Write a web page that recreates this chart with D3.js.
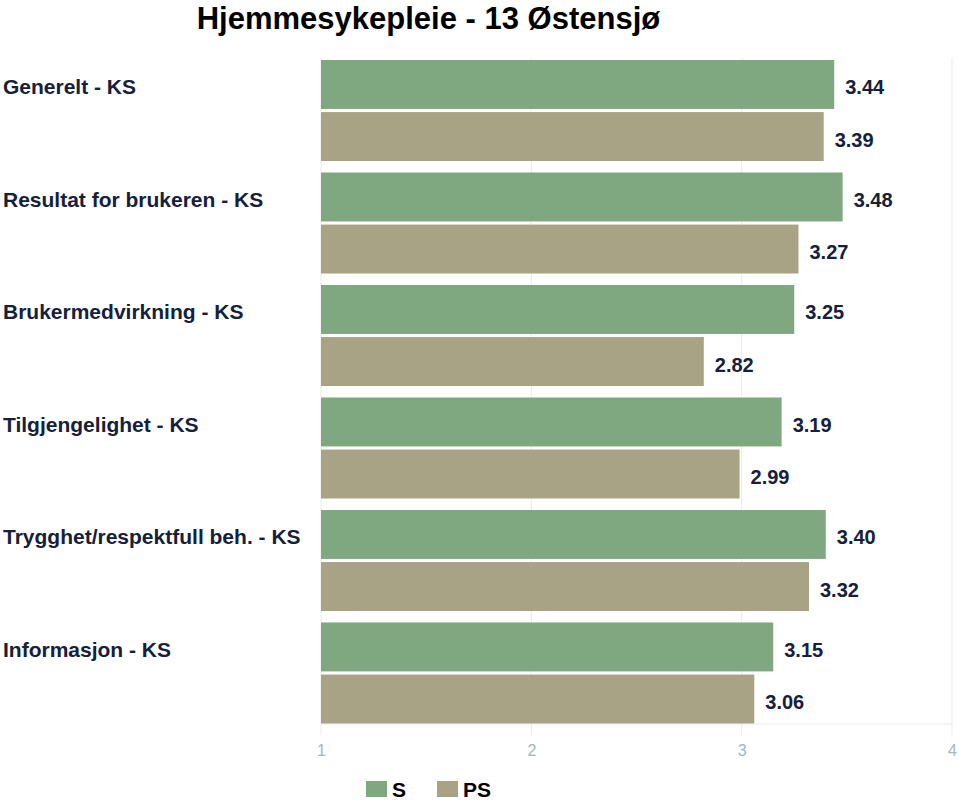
<!DOCTYPE html>
<html>
<head>
<meta charset="utf-8">
<script src="https://cdn.jsdelivr.net/npm/d3@7"></script>
<style>
  body { margin: 0; background: #fff; }
  text { font-family: "Liberation Sans", Arial, sans-serif; }
</style>
</head>
<body>
<script>
var categories = ["Generelt - KS", "Resultat for brukeren - KS", "Brukermedvirkning - KS",
                  "Tilgjengelighet - KS", "Trygghet/respektfull beh. - KS", "Informasjon - KS"];
var seriesNames = ["S", "PS"];
var valuesS = [3.44, 3.48, 3.25, 3.19, 3.40, 3.15];
var valuesPS = [3.39, 3.27, 2.82, 2.99, 3.32, 3.06];
var xTicks = [1, 2, 3, 4];
var colors = {S: "#7fa881", PS: "#a9a386"};

var width = 959, height = 802;

var svg = d3.select("body").append("svg")
    .attr("width", width)
    .attr("height", height);

var x = d3.scaleLinear().domain([1, 4]).range([321, 952]);
var y = d3.scaleBand().domain(categories).range([60, 723.5]).paddingInner(0.102).paddingOuter(0);
var ySub = d3.scaleBand().domain(seriesNames).range([0, y.bandwidth()]).paddingInner(0.06);

// gridlines
svg.append("g").selectAll("line")
    .data(xTicks)
    .enter().append("line")
    .attr("x1", function(d) { return x(d); })
    .attr("x2", function(d) { return x(d); })
    .attr("y1", 58)
    .attr("y2", 735)
    .attr("stroke", "#ebebeb")
    .attr("stroke-width", 1);

svg.append("line")
    .attr("x1", x(1)).attr("x2", x(4))
    .attr("y1", 724).attr("y2", 724)
    .attr("stroke", "#ebebeb");

// axis labels
var xAxis = d3.axisBottom(x).tickValues(xTicks).tickSize(0).tickPadding(0).tickFormat(d3.format("d"));
var axisG = svg.append("g").attr("transform", "translate(0,745)").call(xAxis);
axisG.select(".domain").remove();
axisG.attr("font-size", 16).attr("font-family", null);
axisG.selectAll("text")
    .attr("fill", "#a7b4c1");

var rows = categories.map(function(c, i) {
  return {cat: c, vals: [{key: "S", v: valuesS[i]}, {key: "PS", v: valuesPS[i]}]};
});

var group = svg.append("g").selectAll("g")
    .data(rows)
    .enter().append("g")
    .attr("transform", function(d) { return "translate(0," + y(d.cat) + ")"; });

group.selectAll("rect")
    .data(function(d) { return d.vals; })
    .enter().append("rect")
    .attr("x", x(1))
    .attr("y", function(d) { return ySub(d.key); })
    .attr("width", function(d) { return x(d.v) - x(1); })
    .attr("height", ySub.bandwidth())
    .attr("fill", function(d) { return colors[d.key]; });

group.selectAll("text.val")
    .data(function(d) { return d.vals; })
    .enter().append("text")
    .attr("class", "val")
    .attr("x", function(d) { return x(d.v) + 11; })
    .attr("y", function(d) { return ySub(d.key) + ySub.bandwidth() / 2 + 10; })
    .attr("font-size", 20)
    .attr("font-weight", "bold")
    .attr("fill", "#15203a")
    .text(function(d) { return d.v.toFixed(2); });

group.append("text")
    .attr("x", 3)
    .attr("y", ySub("S") + ySub.bandwidth() / 2 + 10)
    .attr("font-size", 21)
    .attr("font-weight", "bold")
    .attr("fill", "#15203a")
    .text(function(d) { return d.cat; });

// title
svg.append("text")
    .attr("x", 428.5)
    .attr("y", 29)
    .attr("text-anchor", "middle")
    .attr("font-size", 31)
    .attr("font-weight", "bold")
    .attr("fill", "#000")
    .text("Hjemmesykepleie - 13 Østensjø");

// legend
var legend = svg.append("g").selectAll("g")
    .data(seriesNames)
    .enter().append("g")
    .attr("transform", function(d, i) { return "translate(" + (366 + i * 71) + ",781)"; });

legend.append("rect")
    .attr("width", 21)
    .attr("height", 16)
    .attr("fill", function(d) { return colors[d]; });

legend.append("text")
    .attr("x", 26)
    .attr("y", 16)
    .attr("font-size", 21)
    .attr("font-weight", "bold")
    .attr("fill", "#000")
    .text(function(d) { return d; });
</script>
</body>
</html>
